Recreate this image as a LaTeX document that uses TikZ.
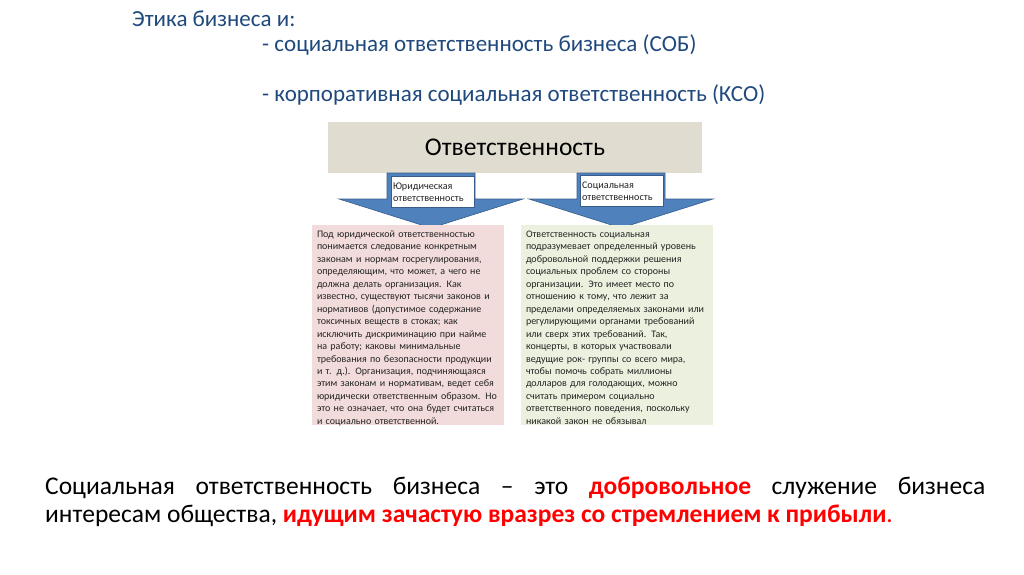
\documentclass[tikz,border=0pt]{standalone}
\usepackage{fontspec}
\setmainfont{Carlito}
\usepackage{tikz}
\usetikzlibrary{calc}
\definecolor{titleblue}{RGB}{31,73,125}
\definecolor{myred}{RGB}{255,0,0}
\definecolor{headgray}{RGB}{224,221,208}
\definecolor{legalpink}{RGB}{242,220,219}
\definecolor{socgreen}{RGB}{235,241,222}
\definecolor{arrowblue}{RGB}{79,129,189}
\definecolor{arrowedge}{RGB}{56,93,138}
\definecolor{boxtext}{RGB}{35,35,35}

\begin{document}
\begin{tikzpicture}[x=1pt, y=-1pt,
        titleline/.style={anchor=base west, inner sep=0, color=titleblue, font=\fontsize{23}{27}\selectfont},
        blockarrow/.style={fill=arrowblue, draw=arrowedge, line width=0.6pt},
        armlabel/.style={fill=white, draw=arrowedge, line width=0.5pt, minimum width=83pt, minimum height=31pt,
            text width=79pt, inner sep=2pt, align=left, font=\fontsize{10.2}{12}\selectfont, text=boxtext},
        textbox/.style={minimum width=192pt, minimum height=200pt, inner sep=0},
        boxcopy/.style={anchor=base west, inner sep=0, text width=190pt, align=left,
            font=\fontsize{10}{12.47}\selectfont, text=boxtext}]
    \useasboundingbox (0,0) rectangle (1024,574);
    \begin{scope}
        % Title
        \node[titleline] (t1) at (132, 26) {Этика бизнеса и:};
        \node[titleline] (t2) at (262, 51) {- социальная ответственность бизнеса (СОБ)};
        \node[titleline] (t3) at (262, 101) {- корпоративная социальная ответственность (КСО)};
    \end{scope}
    \begin{scope}
        % header box
        \node[fill=headgray, minimum width=374pt, minimum height=51pt, font=\fontsize{25.5}{29}\selectfont] (resp) at (515, 147) {Ответственность};
        % block arrows
        \coordinate (larr) at (431, 173);
        \coordinate (rarr) at (621, 173);
        \draw[blockarrow] (larr) ++(-44, 0) -- ++(88, 0) -- ++(0, 26) -- ++(48, 0)
            -- ++(-92, 29) -- ++(-92, -29) -- ++(48, 0) -- cycle;
        \draw[blockarrow] (rarr) ++(-44, 0) -- ++(88, 0) -- ++(0, 26) -- ++(48, 0)
            -- ++(-92, 29) -- ++(-92, -29) -- ++(48, 0) -- cycle;
        \node[armlabel] (legalarm) at ($(larr) + (1.5, 18.5)$) {\rule{0pt}{9pt}Юридическая\\ответственность};
        \node[armlabel] (socarm) at ($(rarr) + (0.5, 17.5)$) {\rule{0pt}{9pt}Социальная\\ответственность};
        % text boxes
        \node[textbox, fill=legalpink] (legal) at (408, 325) {};
        \node[textbox, fill=socgreen] (social) at (617, 325) {};
        \node[boxcopy] (legaltext) at ($(legal.north west) + (5, 12.5)$) {Под юридической ответственностью\\
            понимается следование конкретным\\
            законам и нормам госрегулирования,\\
            определяющим, что может, а чего не\\
            должна делать организация. Как\\
            известно, существуют тысячи законов и\\
            нормативов (допустимое содержание\\
            токсичных веществ в стоках; как\\
            исключить дискриминацию при найме\\
            на работу; каковы минимальные\\
            требования по безопасности продукции\\
            и т. д.). Организация, подчиняющаяся\\
            этим законам и нормативам, ведет себя\\
            юридически ответственным образом. Но\\
            это не означает, что она будет считаться\\
            и социально ответственной.};
        \node[boxcopy] (socialtext) at ($(social.north west) + (5, 12.5)$) {Ответственность социальная\\
            подразумевает определенный уровень\\
            добровольной поддержки решения\\
            социальных проблем со стороны\\
            организации. Это имеет место по\\
            отношению к тому, что лежит за\\
            пределами определяемых законами или\\
            регулирующими органами требований\\
            или сверх этих требований. Так,\\
            концерты, в которых участвовали\\
            ведущие рок- группы со всего мира,\\
            чтобы помочь собрать миллионы\\
            долларов для голодающих, можно\\
            считать примером социально\\
            ответственного поведения, поскольку\\
            никакой закон не обязывал};
    \end{scope}
    % definition
    \node[anchor=base west, inner sep=0, text width=940pt, align=justify, font=\fontsize{25.5}{28}\selectfont] (def) at (45, 494)
        {Социальная ответственность бизнеса – это \textcolor{myred}{\textbf{добровольное}} служение бизнеса\linebreak
        интересам общества, \textcolor{myred}{\textbf{идущим зачастую вразрез со стремлением к прибыли}\textcolor{myred}{.}}};
\end{tikzpicture}
\end{document}
